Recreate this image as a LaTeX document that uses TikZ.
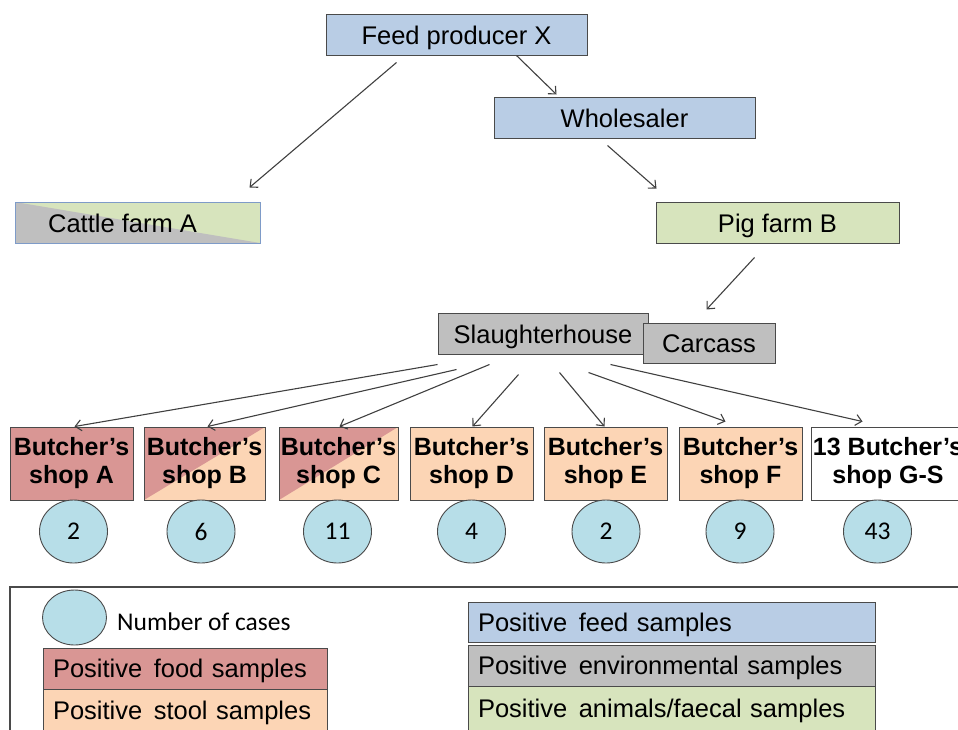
\documentclass[tikz,border=0pt]{standalone}
\usepackage{fontspec}
\setmainfont{Liberation Sans}
\newfontfamily\calfont{Carlito}
\usetikzlibrary{arrows.meta,calc,shapes.geometric}
\definecolor{blueF}{HTML}{B9CDE5}
\definecolor{greenF}{HTML}{D7E4BD}
\definecolor{grayF}{HTML}{BFBFBF}
\definecolor{redF}{HTML}{D99694}
\definecolor{peachF}{HTML}{FCD5B5}
\definecolor{cyanF}{HTML}{B7DEE8}
\definecolor{lineG}{HTML}{4A4A4A}
\definecolor{arrowG}{HTML}{404040}
\definecolor{cattleB}{HTML}{7E9BC8}
\begin{document}
\begin{tikzpicture}[x=1pt,y=-1pt,
  box/.style={rectangle, draw=lineG, line width=1pt, inner sep=0pt,
    text height=19pt, text depth=0pt,
    font=\fontsize{25.5}{28}\selectfont},
  shopbox/.style={box, minimum height=73pt, align=center, text height=, text depth=,
    font=\bfseries\fontsize{25}{28}\selectfont},
  num/.style={ellipse, draw=lineG, line width=0.9pt, fill=cyanF, minimum width=68pt,
    minimum height=63pt, inner sep=0pt, font=\calfont\fontsize{25.5}{28}\selectfont},
  legbox/.style={box, align=left, inner xsep=10pt, text height=18pt},
  arr/.style={draw=arrowG, line width=1.1pt, -{Straight Barb[length=6pt,width=11pt]}},
  diagRed/.style={path picture={\fill[redF] (path picture bounding box.north west) --
    (path picture bounding box.north east) -- (path picture bounding box.south west) -- cycle;}},
  diagGray/.style={path picture={\fill[grayF] (path picture bounding box.north west) --
    (path picture bounding box.south east) -- (path picture bounding box.south west) -- cycle;}}
]
\useasboundingbox (0,0) rectangle (958,729);
\clip (0,0) rectangle (958,729);

% top chain
\node[box, fill=blueF, minimum width=261pt, minimum height=41pt] (feed) at (456.5,34.5) {Feed producer X};
\node[box, fill=blueF, minimum width=261pt, minimum height=41pt] (whole) at (624.5,117.5) {Wholesaler};
\node[box, draw=cattleB, fill=greenF, diagGray, minimum width=245pt, minimum height=41pt] (cattle) at (137.5,222.5) {\hspace*{-30pt}Cattle farm A};
\node[box, fill=greenF, minimum width=243pt, minimum height=41pt] (pig) at (777.5,222.5) {Pig farm B};
\node[box, fill=grayF, minimum width=210pt, minimum height=41pt] (slaughter) at (543,333.5) {Slaughterhouse};
\node[box, fill=grayF, minimum width=132pt, minimum height=40pt] (carcass) at (709,343) {Carcass};

% shops
\node[shopbox, fill=redF, minimum width=123pt] (shopA) at (71.5,463.5) {Butcher’s\\shop A};
\node[shopbox, fill=peachF, diagRed, minimum width=121pt] (shopB) at (204.5,463.5) {Butcher’s\\shop B};
\node[shopbox, fill=peachF, diagRed, minimum width=119pt] (shopC) at (338.5,463.5) {Butcher’s\\shop C};
\node[shopbox, fill=peachF, minimum width=123pt] (shopD) at (471.5,463.5) {Butcher’s\\shop D};
\node[shopbox, fill=peachF, minimum width=123pt] (shopE) at (605.5,463.5) {Butcher’s\\shop E};
\node[shopbox, fill=peachF, minimum width=123pt] (shopF) at (740.5,463.5) {Butcher’s\\shop F};
\node[shopbox, fill=white, minimum width=154pt] (shopG) at (888,463.5) {13 Butcher’s\\shop G-S};

% case counts
\node[num] (nA) at (73.5,531.5) {2};
\node[num] (nB) at (201,531.5) {6};
\node[num] (nC) at (337.5,531.5) {11};
\node[num] (nD) at (471.5,531.5) {4};
\node[num] (nE) at (606,531.5) {2};
\node[num] (nF) at (740,531.5) {9};
\node[num] (nG) at (877.5,531.5) {43};

% connectors
\draw[arr] ($(feed.south west)+(71,7)$) -- ($(cattle.north west)+(235,-14)$);
\draw[arr] ($(feed.south west)+(191,0)$) -- ($(whole.north west)+(63,-2)$);
\draw[arr] ($(whole.south west)+(114,7)$) -- ($(pig.north west)+(1,-13)$);
\draw[arr] ($(pig.south west)+(99,14)$) -- ($(carcass.north west)+(64,-13)$);
\draw[arr] ($(slaughter.south west)+(0,10)$) -- ($(shopA.north west)+(65,0)$);
\draw[arr] ($(slaughter.south west)+(19,15)$) -- ($(shopB.north west)+(64,0)$);
\draw[arr] ($(slaughter.south west)+(52,10)$) -- ($(shopC.north west)+(61,0)$);
\draw[arr] ($(slaughter.south west)+(81,20)$) -- ($(shopD.north west)+(63,0)$);
\draw[arr] ($(slaughter.south west)+(122,18)$) -- ($(shopE.north west)+(61,0)$);
\draw[arr] ($(slaughter.south west)+(151,18)$) -- ($(shopF.north west)+(47,-5)$);
\draw[arr] ($(slaughter.south west)+(173,10)$) -- ($(shopG.north west)+(52,-5)$);

% legend
\draw[draw=lineG, line width=1.1pt] (10,587) rectangle (990,760);
\node[num, minimum width=64pt, minimum height=55pt] (legnum) at (74.5,617.5) {};
\node[anchor=west, inner sep=0pt, font=\calfont\fontsize{25.5}{28}\selectfont] (legnumtxt) at (117,622) {Number of cases};
\node[legbox, fill=redF, text width=264pt, minimum height=41pt] (legfood) at (185,668.5) {Positive\hspace{3pt} food samples};
\node[legbox, fill=peachF, text width=264pt, minimum height=42pt] (legstool) at (185,710) {Positive\hspace{3pt} stool samples};
\node[legbox, fill=blueF, text width=387pt, minimum height=40pt] (legfeed) at (671.5,622) {Positive\hspace{3pt} feed samples};
\node[legbox, fill=grayF, text width=387pt, minimum height=41pt] (legenv) at (671.5,665.5) {Positive\hspace{3pt} environmental samples};
\node[legbox, fill=greenF, text width=387pt, minimum height=44pt] (leganim) at (671.5,708) {Positive\hspace{3pt} animals/faecal samples};
\end{tikzpicture}
\end{document}
